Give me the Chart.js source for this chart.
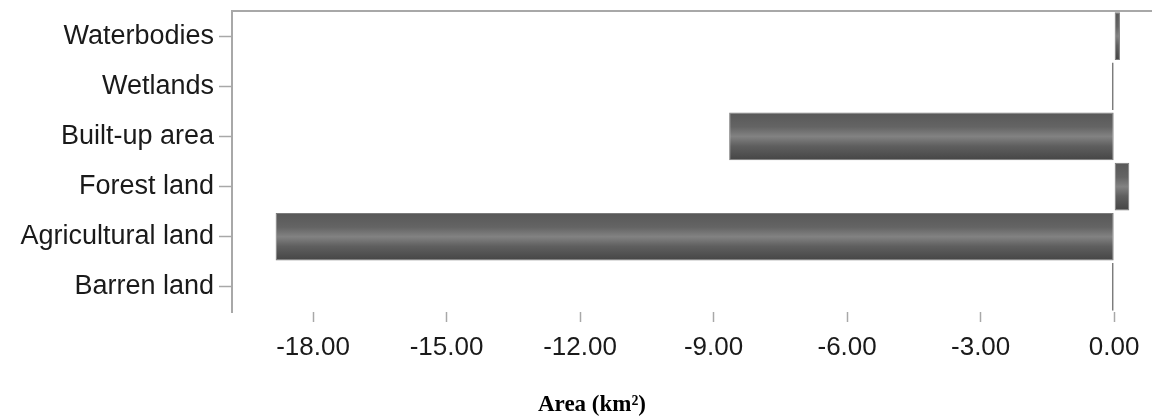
<!DOCTYPE html>
<html>
<head>
<meta charset="utf-8">
<script src="https://cdn.jsdelivr.net/npm/chart.js@4.4.1/dist/chart.umd.min.js"></script>
<style>
  html, body { margin: 0; padding: 0; background: #ffffff; }
  #wrap { width: 1152px; height: 419px; position: relative; }
</style>
</head>
<body>
<div id="wrap"><canvas id="c" width="1152" height="419"></canvas></div>
<script>
// ---- data ----
const categories = ['Waterbodies', 'Wetlands', 'Built-up area', 'Forest land', 'Agricultural land', 'Barren land'];
const areaChange = [0.13, -0.05, -8.65, 0.34, -18.84, -0.05];
const xTickValues = [-18, -15, -12, -9, -6, -3, 0];
const xAxisTitle = 'Area (km\u00B2)';

const BAR_PCT = 0.95;
const AXIS_GREY = '#a8a8a8';

function barGradient(ctx) {
  const chart = ctx.chart;
  const area = chart.chartArea;
  if (!area || !chart.scales.y) return '#646464';
  const y = chart.scales.y.getPixelForValue(ctx.dataIndex);
  const half = (area.bottom - area.top) / categories.length * BAR_PCT / 2;
  const g = chart.ctx.createLinearGradient(0, y - half, 0, y + half);
  g.addColorStop(0, '#585858');
  g.addColorStop(0.3, '#646464');
  g.addColorStop(0.5, '#828282');
  g.addColorStop(0.7, '#5f5f5f');
  g.addColorStop(1, '#454545');
  return g;
}

const titlePlugin = {
  id: 'bottomTitle',
  afterDraw(chart) {
    const c = chart.ctx;
    c.save();
    c.font = 'bold 23px "Liberation Serif", "Times New Roman", serif';
    c.fillStyle = '#000000';
    c.textAlign = 'center';
    c.textBaseline = 'alphabetic';
    c.fillText(xAxisTitle, 592, 411);
    c.restore();
  }
};

new Chart(document.getElementById('c'), {
  type: 'bar',
  data: {
    labels: categories,
    datasets: [{
      data: areaChange,
      backgroundColor: barGradient,
      borderColor: '#7c7c7c',
      borderWidth: 1,
      borderSkipped: false,
      barPercentage: BAR_PCT,
      categoryPercentage: 1.0
    }]
  },
  options: {
    indexAxis: 'y',
    responsive: false,
    animation: false,
    devicePixelRatio: 1,
    layout: { padding: { top: 11, left: 0, right: 0, bottom: 0 } },
    plugins: {
      legend: { display: false },
      tooltip: { enabled: false },
      title: { display: false }
    },
    scales: {
      x: {
        type: 'linear',
        position: 'bottom',
        min: -19.82,
        max: 0.85,
        afterBuildTicks(scale) {
          scale.ticks = xTickValues.map(v => ({ value: v }));
        },
        afterFit(scale) {
          scale.height = 107;
          scale.paddingLeft = 0;
          scale.paddingRight = 0;
        },
        border: { display: false },
        grid: {
          drawOnChartArea: false,
          drawTicks: true,
          tickLength: 13,
          tickWidth: 1.5,
          tickColor: AXIS_GREY,
          tickBorderDash: [10, 3]
        },
        ticks: {
          padding: 7,
          color: '#1a1a1a',
          font: { family: '"Liberation Sans", Arial, sans-serif', size: 26 },
          callback: (v) => Number(v).toFixed(2),
          maxRotation: 0,
          autoSkip: false
        }
      },
      x2: {
        type: 'linear',
        position: 'top',
        min: -19.82,
        max: 0.85,
        grid: { display: false, drawTicks: false },
        ticks: { display: false },
        border: { display: true, color: AXIS_GREY, width: 2 },
        afterFit(scale) {
          scale.height = 0;
          scale.paddingLeft = 0;
          scale.paddingRight = 0;
        }
      },
      y: {
        type: 'category',
        position: 'left',
        afterFit(scale) {
          scale.width = 232;
          scale.paddingTop = 0;
          scale.paddingBottom = 0;
        },
        border: { display: true, color: AXIS_GREY, width: 2 },
        grid: {
          offset: false,
          drawOnChartArea: false,
          drawTicks: true,
          tickLength: 13,
          tickWidth: 1.5,
          tickColor: AXIS_GREY
        },
        ticks: {
          padding: 5,
          color: '#1a1a1a',
          font: { family: '"Liberation Sans", Arial, sans-serif', size: 27 },
          autoSkip: false
        }
      }
    }
  },
  plugins: [titlePlugin]
});
</script>
</body>
</html>
